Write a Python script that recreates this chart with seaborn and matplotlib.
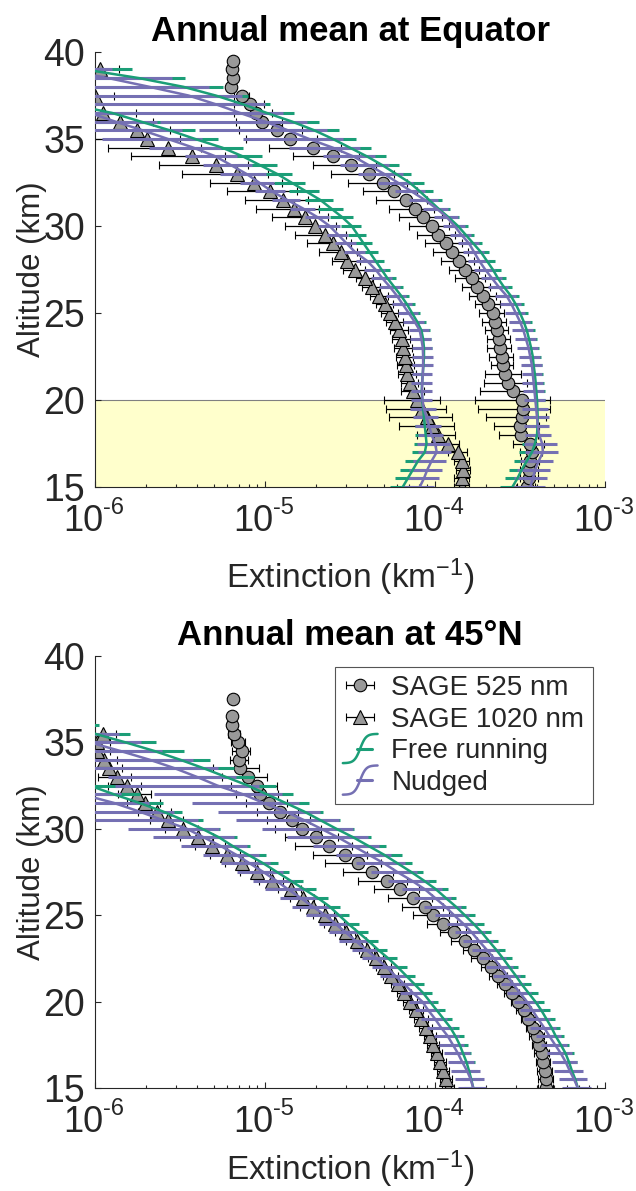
import numpy as np
import matplotlib
matplotlib.use('Agg')
import matplotlib.pyplot as plt
import matplotlib.transforms as mtrans
import seaborn as sns
from matplotlib.legend_handler import HandlerBase
from matplotlib.lines import Line2D

nan = np.nan

# --- altitude levels (km) ---
ALT = [15.0, 15.5, 16.0, 16.5, 17.0, 17.5, 18.0, 18.5, 19.0, 19.5,
       20.0, 20.5, 21.0, 21.5, 22.0, 22.5, 23.0, 23.5, 24.0, 24.5,
       25.0, 25.5, 26.0, 26.5, 27.0, 27.5, 28.0, 28.5, 29.0, 29.5,
       30.0, 30.5, 31.0, 31.5, 32.0, 32.5, 33.0, 33.5, 34.0, 34.5,
       35.0, 35.5, 36.0, 36.5, 37.0, 37.5, 38.0, 38.5, 39.0, 39.5,
       40.0]
DECADES = [-6, -5, -4, -3]

# ================= Equator (values are log10 of extinction, km-1) =================
sage525_eq = [-3.46, -3.445, -3.445, -3.44, -3.43, -3.44, -3.495, -3.50, -3.49, -3.485,
              -3.49, -3.543, -3.569, -3.588, -3.602, -3.608, -3.618, -3.621, -3.633, -3.647,
              -3.661, -3.686, -3.716, -3.751, -3.784, -3.822, -3.859, -3.898, -3.937, -3.98,
              -4.02, -4.069, -4.118, -4.171, -4.239, -4.304, -4.388, -4.494, -4.598, -4.716,
              -4.853, -4.931, -5.016, -5.055, -5.088, -5.137, -5.20, -5.19, -5.196, -5.186,
              nan]
sage525_eq_rel = [0.12, 0.12, 0.12, 0.12, 0.15, 0.21, 0.26, 0.30, 0.38, 0.45,
                  0.47, 0.36, 0.28, 0.24, 0.15, 0.16, 0.16, 0.16, 0.16, 0.16,
                  0.17, 0.17, 0.18, 0.19, 0.20, 0.20, 0.22, 0.23, 0.24, 0.25,
                  0.26, 0.28, 0.30, 0.33, 0.35, 0.38, 0.40, 0.40, 0.42, 0.45,
                  0.45, 0.40, 0.30, 0.25, 0.20, 0.10, 0.03, 0.03, 0.03, 0.03,
                  nan]
sage1020_eq = [-3.843, -3.843, -3.833, -3.843, -3.863, -3.922, -3.98, -4.02, -4.049, -4.078,
               -4.104, -4.127, -4.147, -4.163, -4.17, -4.176, -4.186, -4.196, -4.21, -4.235,
               -4.265, -4.294, -4.327, -4.372, -4.412, -4.47, -4.516, -4.555, -4.602, -4.647,
               -4.706, -4.765, -4.829, -4.896, -4.97, -5.063, -5.167, -5.288, -5.431, -5.569,
               -5.696, -5.755, -5.853, -5.955, nan, -6.0, nan, nan, -5.97, nan,
               nan]
sage1020_eq_rel = [0.10, 0.10, 0.10, 0.10, 0.13, 0.15, 0.25, 0.36, 0.40, 0.38,
                   0.36, 0.15, 0.12, 0.12, 0.12, 0.12, 0.12, 0.12, 0.12, 0.12,
                   0.12, 0.12, 0.12, 0.12, 0.12, 0.15, 0.19, 0.25, 0.29, 0.33,
                   0.33, 0.36, 0.40, 0.40, 0.44, 0.45, 0.52, 0.54, 0.56, 0.56,
                   0.56, 0.56, 0.56, 0.56, nan, 0.30, nan, nan, 0.30, nan,
                   nan]
free525_eq = [-3.545, -3.515, -3.49, -3.46, -3.43, -3.412, -3.40, -3.397, -3.396, -3.398,
              -3.40, -3.404, -3.408, -3.413, -3.42, -3.425, -3.435, -3.447, -3.46, -3.478,
              -3.50, -3.525, -3.555, -3.595, -3.63, -3.66, -3.695, -3.73, -3.775, -3.82,
              -3.865, -3.92, -3.98, -4.035, -4.09, -4.15, -4.23, -4.31, -4.40, -4.50,
              -4.60, -4.71, -4.84, -4.99, -5.13, -5.29, -5.48, -5.74, -6.06, -6.30,
              -6.60]
nudged525_eq = [-3.44, -3.425, -3.41, -3.39, -3.365, -3.37, -3.388, -3.395, -3.40, -3.405,
                -3.41, -3.415, -3.42, -3.425, -3.43, -3.44, -3.45, -3.465, -3.48, -3.50,
                -3.525, -3.55, -3.58, -3.625, -3.665, -3.705, -3.74, -3.77, -3.80, -3.845,
                -3.885, -3.93, -3.99, -4.06, -4.14, -4.22, -4.30, -4.39, -4.48, -4.60,
                -4.74, -4.865, -5.0, -5.147, -5.29, -5.45, -5.68, -5.92, -6.2, -6.6,
                -6.9]
free1020_eq = [-4.19, -4.16, -4.13, -4.10, -4.06, -4.05, -4.055, -4.06, -4.065, -4.07,
               -4.075, -4.078, -4.076, -4.072, -4.068, -4.065, -4.065, -4.07, -4.08, -4.105,
               -4.135, -4.165, -4.20, -4.24, -4.28, -4.315, -4.35, -4.385, -4.42, -4.455,
               -4.49, -4.545, -4.61, -4.675, -4.76, -4.845, -4.93, -5.03, -5.13, -5.25,
               -5.41, -5.56, -5.73, -5.90, -6.15, -6.45, -6.70, -6.90, -7.10, -7.30,
               -7.50]
nudged1020_eq = [-4.09, -4.065, -4.045, -4.02, -3.99, -4.0, -4.02, -4.035, -4.05, -4.065,
                 -4.074, -4.077, -4.075, -4.072, -4.07, -4.07, -4.072, -4.08, -4.09, -4.12,
                 -4.155, -4.19, -4.225, -4.265, -4.31, -4.35, -4.40, -4.47, -4.52, -4.57,
                 -4.62, -4.69, -4.775, -4.87, -4.96, -5.035, -5.11, -5.20, -5.29, -5.42,
                 -5.57, -5.72, -5.88, -6.03, -6.25, -6.50, -6.80, -7.10, -7.40, -7.60,
                 -7.80]
free_rel_eq = [0.16, 0.16, 0.16, 0.16, 0.16, 0.16, 0.13, 0.13, 0.13, 0.13,
               0.12, 0.12, 0.12, 0.12, 0.12, 0.12, 0.12, 0.12, 0.12, 0.12,
               0.12, 0.12, 0.12, 0.12, 0.12, 0.12, 0.12, 0.12, 0.12, 0.12,
               0.14, 0.15, 0.17, 0.19, 0.20, 0.21, 0.23, 0.26, 0.30, 0.32,
               0.36, 0.40, 0.44, 0.45, 0.45, 0.55, 0.72, 0.86, 0.90, 0.90,
               0.90]
nudged_rel_eq = [0.22, 0.22, 0.22, 0.22, 0.22, 0.22, 0.17, 0.17, 0.17, 0.17,
                 0.14, 0.14, 0.14, 0.14, 0.14, 0.14, 0.14, 0.14, 0.14, 0.14,
                 0.14, 0.14, 0.14, 0.14, 0.14, 0.14, 0.14, 0.14, 0.14, 0.14,
                 0.15, 0.16, 0.17, 0.19, 0.20, 0.23, 0.30, 0.32, 0.34, 0.45,
                 0.59, 0.70, 0.76, 0.80, 0.95, 1.05, 1.25, 1.35, 1.00, 1.20,
                 1.20]

# ================= 45N =================
sage525_45 = [-3.347, -3.347, -3.353, -3.363, -3.372, -3.386, -3.402, -3.422, -3.451, -3.476,
              -3.51, -3.549, -3.588, -3.627, -3.672, -3.72, -3.771, -3.824, -3.888, -3.951,
              -4.01, -4.059, -4.127, -4.206, -4.284, -4.37, -4.451, -4.529, -4.623, -4.70,
              -4.784, -4.843, -4.91, -4.975, -5.029, -5.045, -5.10, -5.15, -5.151, -5.137,
              -5.157, -5.18, -5.196, -5.196, nan, -5.19, nan, nan, nan, nan,
              nan]
sage525_45_rel = [0.10, 0.10, 0.10, 0.10, 0.10, 0.10, 0.10, 0.10, 0.10, 0.10,
                  0.10, 0.10, 0.10, 0.12, 0.12, 0.14, 0.14, 0.17, 0.17, 0.20,
                  0.24, 0.27, 0.29, 0.30, 0.32, 0.33, 0.36, 0.35, 0.37, 0.34,
                  0.30, 0.28, 0.27, 0.27, 0.28, 0.30, 0.30, 0.30, 0.12, 0.12,
                  0.10, 0.08, 0.06, 0.03, nan, 0.03, nan, nan, nan, nan,
                  nan]
sage1020_45 = [-3.922, -3.935, -3.951, -3.971, -3.99, -4.01, -4.029, -4.055, -4.08, -4.11,
               -4.145, -4.18, -4.22, -4.26, -4.30, -4.35, -4.40, -4.46, -4.525, -4.59,
               -4.65, -4.72, -4.775, -4.85, -4.96, -5.049, -5.137, -5.225, -5.314, -5.392,
               -5.48, -5.569, -5.637, -5.706, -5.755, -5.814, -5.873, -5.92, -5.95, -5.99,
               -5.99, -5.955, nan, nan, nan, nan, nan, nan, nan, nan,
               nan]
sage1020_45_rel = [0.08, 0.08, 0.08, 0.08, 0.08, 0.08, 0.08, 0.09, 0.09, 0.09,
                   0.09, 0.09, 0.09, 0.10, 0.10, 0.10, 0.10, 0.14, 0.14, 0.14,
                   0.14, 0.16, 0.16, 0.16, 0.16, 0.20, 0.20, 0.20, 0.20, 0.22,
                   0.22, 0.22, 0.22, 0.22, 0.22, 0.22, 0.22, 0.20, 0.20, 0.20,
                   0.20, 0.20, nan, nan, nan, nan, nan, nan, nan, nan,
                   nan]
free525_45 = [-3.16, -3.175, -3.195, -3.212, -3.232, -3.26, -3.29, -3.315, -3.345, -3.375,
              -3.41, -3.45, -3.49, -3.525, -3.563, -3.60, -3.64, -3.683, -3.725, -3.773,
              -3.825, -3.878, -3.937, -3.995, -4.065, -4.14, -4.22, -4.30, -4.39, -4.48,
              -4.58, -4.675, -4.77, -4.88, -4.99, -5.10, -5.23, -5.36, -5.50, -5.65,
              -5.82, -6.00, -6.18, -6.36, -6.55, -6.75, -6.95, -7.15, -7.35, -7.55,
              -7.75]
nudged525_45 = [-3.16, -3.182, -3.208, -3.231, -3.26, -3.294, -3.327, -3.359, -3.394, -3.427,
                -3.46, -3.50, -3.539, -3.574, -3.613, -3.653, -3.696, -3.741, -3.784, -3.833,
                -3.888, -3.94, -4.0, -4.06, -4.137, -4.222, -4.30, -4.39, -4.48, -4.57,
                -4.67, -4.77, -4.88, -5.01, -5.13, -5.28, -5.40, -5.53, -5.68, -5.85,
                -6.03, -6.20, -6.40, -6.60, -6.80, -7.00, -7.20, -7.40, -7.60, -7.80,
                -8.00]
free1020_45 = [-3.775, -3.787, -3.80, -3.815, -3.835, -3.855, -3.88, -3.91, -3.95, -3.99,
               -4.03, -4.07, -4.12, -4.17, -4.22, -4.275, -4.335, -4.39, -4.45, -4.51,
               -4.565, -4.62, -4.69, -4.77, -4.85, -4.93, -5.01, -5.10, -5.19, -5.27,
               -5.37, -5.48, -5.60, -5.74, -5.89, -6.03, -6.20, -6.40, -6.60, -6.80,
               -7.00, -7.20, -7.40, -7.60, -7.80, -8.00, -8.20, -8.40, -8.60, -8.80,
               -9.00]
nudged1020_45 = [-3.775, -3.79, -3.812, -3.84, -3.865, -3.895, -3.925, -3.965, -4.0, -4.04,
                 -4.075, -4.13, -4.18, -4.235, -4.285, -4.345, -4.405, -4.465, -4.525, -4.585,
                 -4.645, -4.72, -4.79, -4.865, -4.935, -5.01, -5.09, -5.17, -5.26, -5.36,
                 -5.46, -5.60, -5.74, -5.89, -6.08, -6.25, -6.45, -6.65, -6.85, -7.05,
                 -7.25, -7.45, -7.65, -7.85, -8.05, -8.25, -8.45, -8.65, -8.85, -9.05,
                 -9.25]
free_rel_45 = [0.12, 0.12, 0.12, 0.12, 0.12, 0.12, 0.12, 0.12, 0.12, 0.12,
               0.12, 0.13, 0.13, 0.13, 0.13, 0.13, 0.13, 0.13, 0.13, 0.15,
               0.15, 0.15, 0.15, 0.18, 0.18, 0.18, 0.22, 0.27, 0.27, 0.27,
               0.27, 0.30, 0.30, 0.38, 0.42, 0.47, 0.47, 0.50, 0.50, 0.50,
               0.50, 0.60, 0.60, 0.60, 0.60, 0.60, 0.60, 0.60, 0.60, 0.60,
               0.60]
nudged_rel_45 = [0.19, 0.19, 0.19, 0.17, 0.17, 0.17, 0.17, 0.17, 0.17, 0.16,
                 0.16, 0.16, 0.16, 0.18, 0.18, 0.18, 0.18, 0.20, 0.20, 0.20,
                 0.23, 0.245, 0.245, 0.27, 0.27, 0.30, 0.32, 0.36, 0.42, 0.50,
                 0.55, 0.60, 0.60, 0.62, 0.70, 0.75, 0.70, 0.80, 0.80, 0.75,
                 1.00, 1.20, 1.20, 1.20, 1.20, 1.20, 1.20, 1.20, 1.20, 1.20,
                 1.20]

GREEN = '#1b9e77'
PURPLE = '#7570b3'
GREY = '#999999'
AXCOL = '#262626'

# --- style ---
sns.set_style('ticks')
plt.rcParams['font.family'] = ['Liberation Sans', 'DejaVu Sans']
plt.rcParams['mathtext.default'] = 'regular'
plt.rcParams['axes.edgecolor'] = AXCOL
plt.rcParams['xtick.color'] = AXCOL
plt.rcParams['ytick.color'] = AXCOL
plt.rcParams['axes.labelcolor'] = AXCOL


def ext(logvals):
    return 10.0 ** np.asarray(logvals, dtype=float)


class SCurveHandler(HandlerBase):
    # errorbar-style legend icon: S-shaped curve crossed by a horizontal bar
    def create_artists(self, legend, orig_handle, xdescent, ydescent,
                       width, height, fontsize, trans):
        t = np.linspace(0.0, 1.0, 40)
        x0, y0 = -xdescent, -ydescent
        xs = x0 + width * t
        ys = y0 + height * (0.5 + 0.75 * np.tanh(6 * (t - 0.5)) / np.tanh(3))
        col = orig_handle.get_color()
        curve = Line2D(xs, ys, color=col, lw=1.8, transform=trans)
        bar = Line2D([x0 + 0.4 * width, x0 + 0.85 * width],
                     [y0 + 0.5 * height] * 2, color=col, lw=2.2, transform=trans)
        return [curve, bar]


def decade_labels(ax):
    # "10" with a raised exponent, drawn under each decade tick
    base = mtrans.blended_transform_factory(ax.transData, ax.transAxes)
    for e in DECADES:
        t_main = mtrans.offset_copy(base, fig=ax.figure, x=8, y=-44, units='dots')
        t_exp = mtrans.offset_copy(base, fig=ax.figure, x=8, y=-27, units='dots')
        ax.text(10.0 ** e, 0, '10', transform=t_main, ha='right', va='baseline',
                fontsize=26, color=AXCOL, clip_on=False)
        ax.text(10.0 ** e, 0, str(e), transform=t_exp, ha='left', va='baseline',
                fontsize=17, color=AXCOL, clip_on=False)


def draw_panel(ax, s525, s525_rel, s1020, s1020_rel, models, title,
               shade=False, xlabel_y=-0.16):
    ax.set_xscale('log')
    if shade:
        ax.axhspan(15, 20, facecolor='#ffffcc', edgecolor='none', zorder=0)
        ax.axhline(20, color='#808080', lw=0.8, zorder=0.5)

    alt = np.array(ALT)
    handles = []
    for vals, rel, mk, ms in [(s525, s525_rel, 'o', 9), (s1020, s1020_rel, '^', 10)]:
        x = ext(vals)
        h = ax.errorbar(x, alt, xerr=x * np.asarray(rel), fmt=mk, ms=ms,
                        mfc=GREY, mec='black', mew=0.8, ecolor='black',
                        elinewidth=0.9, capsize=3, capthick=0.9, zorder=2)
        handles.append(h)

    for col, series, rel in models:
        for vals in series:
            x = ext(vals)
            ax.errorbar(x, alt, xerr=x * np.asarray(rel), fmt='none',
                        ecolor=col, elinewidth=2.2, capsize=0, zorder=3)
            sns.lineplot(x=x, y=alt, orient='y', sort=False, estimator=None,
                         color=col, lw=1.8, ax=ax, legend=False, zorder=4)

    ax.set_xlim(1e-6, 1e-3)
    ax.set_ylim(15, 40)
    ax.set_yticks([15, 20, 25, 30, 35, 40])
    ax.set_xticks([10.0 ** e for e in DECADES])
    ax.tick_params(which='both', direction='in', width=0.8)
    ax.tick_params(which='major', length=4)
    ax.tick_params(which='minor', length=2.5)
    ax.tick_params(axis='x', labelbottom=False)
    ax.tick_params(axis='y', labelsize=27, pad=7)
    decade_labels(ax)
    sns.despine(ax=ax)
    for sp in ['left', 'bottom']:
        ax.spines[sp].set_linewidth(0.8)
    ax.set_xlabel('Extinction (km$^{-1}$)', fontsize=24)
    ax.set_ylabel('Altitude (km)', fontsize=22.5)
    ax.xaxis.set_label_coords(0.5, xlabel_y)
    ax.yaxis.set_label_coords(-0.094, 0.5)
    ax.set_title(title, fontsize=25, fontweight='bold', color='black', pad=8)
    return handles


fig = plt.figure(figsize=(6.36, 11.91), dpi=100)
ax1 = fig.add_axes([0.1494, 0.5911, 0.8019, 0.3652])
ax2 = fig.add_axes([0.1494, 0.0865, 0.8019, 0.3627])

draw_panel(ax1, sage525_eq, sage525_eq_rel, sage1020_eq, sage1020_eq_rel,
           [(GREEN, [free525_eq, free1020_eq], free_rel_eq),
            (PURPLE, [nudged525_eq, nudged1020_eq], nudged_rel_eq)],
           'Annual mean at Equator', shade=True, xlabel_y=-0.16)
sage_handles = draw_panel(ax2, sage525_45, sage525_45_rel, sage1020_45, sage1020_45_rel,
                          [(GREEN, [free525_45, free1020_45], free_rel_45),
                           (PURPLE, [nudged525_45, nudged1020_45], nudged_rel_45)],
                          'Annual mean at 45°N', xlabel_y=-0.14)

free_h = Line2D([], [], color=GREEN)
nudged_h = Line2D([], [], color=PURPLE)
leg = ax2.legend(sage_handles + [free_h, nudged_h],
                 ['SAGE 525 nm', 'SAGE 1020 nm', 'Free running', 'Nudged'],
                 handler_map={free_h: SCurveHandler(), nudged_h: SCurveHandler()},
                 loc='upper right', bbox_to_anchor=(0.976, 0.975), borderaxespad=0,
                 fontsize=20, handlelength=1.25, handletextpad=0.5, labelspacing=0.2,
                 borderpad=0.3, fancybox=False, framealpha=1, edgecolor='#555555')
leg.get_frame().set_linewidth(0.8)

fig.savefig('out.png', dpi=100)
